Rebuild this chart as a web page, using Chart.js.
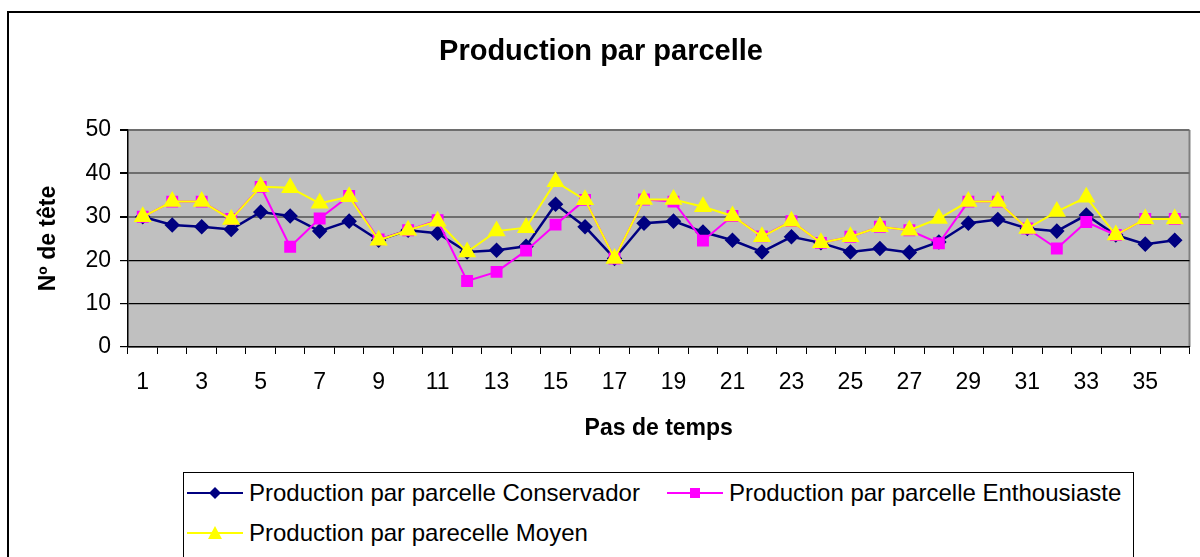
<!DOCTYPE html>
<html>
<head>
<meta charset="utf-8">
<script src="https://cdn.jsdelivr.net/npm/chart.js@4.4.0/dist/chart.umd.min.js"></script>
<style>
    body { margin: 0; background: #fff; font-family: "Liberation Sans", Arial, sans-serif; }
    #wrap { position: relative; width: 1200px; height: 557px; overflow: hidden; }
    #frame { position: absolute; left: 7px; top: 11px; width: 1220px; height: 580px; border: 2px solid #000; box-sizing: border-box; }
    canvas { position: absolute; left: 0; top: 0; }
    #legend { position: absolute; left: 183px; top: 472px; width: 951px; height: 90px; border: 1px solid #000; box-sizing: border-box; background: #fff; }
    .item { position: absolute; display: flex; align-items: center; font-size: 24px; color: #000; white-space: nowrap; }
    .item svg { margin-right: 6px; }
</style>
</head>
<body>
<div id="wrap">
    <div id="frame"></div>
    <canvas id="prodChart" width="1200" height="557"></canvas>
    <div id="legend"></div>
</div>
<script>
var categories = [];
for (var i = 1; i <= 36; i++) categories.push(String(i));

var conservador = [30, 28.1, 27.7, 27.1, 31.1, 30.2, 26.7, 29.0, 24.6, 26.9, 26.2, 21.9, 22.3, 23.2, 32.9, 27.7, 20.4, 28.5,
    29.0, 26.5, 24.6, 21.9, 25.4, 24.0, 21.9, 22.7, 21.8, 24.2, 28.5, 29.4, 27.3, 26.7, 30.4, 25.8, 23.7, 24.6];
var enthousiaste = [30, 33.5, 33.5, 29.5, 36.9, 23.1, 29.6, 34.8, 24.8, 26.9, 29.2, 15.2, 17.3, 22.2, 28.2, 33.9, 20.4, 34.0,
    33.5, 24.5, 30.2, 25.5, 29.0, 24.0, 25.4, 27.7, 26.9, 23.9, 33.5, 33.5, 27.3, 22.7, 28.8, 25.8, 29.5, 29.5];
var moyen = [30, 33.5, 33.5, 29.4, 36.9, 36.7, 33.1, 34.6, 24.6, 26.9, 29.0, 21.9, 26.7, 27.5, 38.1, 33.9, 20.4, 34.0,
    34.0, 32.3, 30.2, 25.4, 29.0, 24.0, 25.4, 27.7, 26.9, 29.6, 33.5, 33.5, 27.3, 31.2, 34.5, 25.8, 29.5, 29.5];

var seriesNames = ['Production par parcelle Conservador', 'Production par parcelle Enthousiaste', 'Production par parecelle Moyen'];
var yTicks = [0, 10, 20, 30, 40, 50];

var fontFamily = '"Liberation Sans", Arial, sans-serif';

// grey plot background
var plotBg = {
    id: 'plotBg',
    beforeDraw: function(chart) {
        var a = chart.chartArea, c = chart.ctx;
        c.save();
        c.fillStyle = '#c0c0c0';
        c.fillRect(a.left, a.top, a.right - a.left, a.bottom - a.top);
        c.strokeStyle = '#808080';
        c.lineWidth = 2;
        c.beginPath();
        c.moveTo(a.right, a.top);
        c.lineTo(a.right, a.bottom);
        c.stroke();
        c.restore();
    }
};

var ctx = document.getElementById('prodChart').getContext('2d');
var prodChart = new Chart(ctx, {
    type: 'line',
    data: {
        labels: categories,
        datasets: [{
            label: seriesNames[0],
            data: conservador,
            borderColor: '#000080',
            backgroundColor: '#000080',
            borderWidth: 2.5,
            pointStyle: 'rectRot',
            pointRadius: 6,
            order: 3
        }, {
            label: seriesNames[1],
            data: enthousiaste,
            borderColor: '#ff00ff',
            backgroundColor: '#ff00ff',
            borderWidth: 2,
            pointStyle: 'rect',
            pointRadius: 7,
            order: 2
        }, {
            label: seriesNames[2],
            data: moyen,
            borderColor: '#ffff00',
            backgroundColor: '#ffff00',
            borderWidth: 2,
            pointStyle: 'triangle',
            pointRadius: 8.5,
            order: 1
        }]
    },
    options: {
        responsive: false,
        animation: false,
        layout: { padding: { left: 12, right: 10, top: 0, bottom: 110 } },
        plugins: {
            legend: { display: false },
            tooltip: { enabled: false },
            title: {
                display: true,
                text: 'Production par parcelle',
                color: '#000',
                font: { family: fontFamily, size: 29, weight: 'bold', lineHeight: 1.2 },
                padding: { top: 35, bottom: 60.2 }
            }
        },
        scales: {
            x: {
                offset: true,
                grid: { offset: true, drawOnChartArea: false, color: '#000', tickLength: 7, tickColor: '#000' },
                border: { color: '#000', width: 1.5 },
                ticks: {
                    autoSkip: false,
                    maxRotation: 0,
                    padding: 15,
                    color: '#000',
                    font: { family: fontFamily, size: 23 },
                    callback: function(val, idx) { return idx % 2 === 0 ? this.getLabelForValue(val) : ''; }
                },
                title: {
                    display: true,
                    text: 'Pas de temps',
                    color: '#000',
                    font: { family: fontFamily, size: 23, weight: 'bold', lineHeight: 1.2 },
                    padding: { top: 0, bottom: 5 }
                },
                afterFit: function(scale) { scale.height = 100; }
            },
            y: {
                min: 0,
                max: 50,
                afterBuildTicks: function(scale) {
                    scale.ticks = yTicks.map(function(v) { return { value: v }; });
                },
                grid: {
                    color: function(c) { return c.tick && c.tick.value >= 30 ? '#6e6e6e' : '#000'; },
                    lineWidth: function(c) { return c.tick && c.tick.value >= 30 ? 2 : 1.2; },
                    tickLength: 8,
                    tickColor: '#000'
                },
                border: { color: '#000', width: 1.5 },
                ticks: {
                    padding: 9,
                    color: '#000',
                    font: { family: fontFamily, size: 23 }
                },
                title: {
                    display: true,
                    text: 'Nº de tête',
                    color: '#000',
                    font: { family: fontFamily, size: 23, weight: 'bold', lineHeight: 1.2 },
                    padding: { top: 23, bottom: 0 }
                },
                afterFit: function(scale) { scale.width = 116; }
            }
        }
    },
    plugins: [plotBg]
});

// legend in a framed box, built from the datasets
var legendPos = [[3, 20], [483, 20], [3, 60]];
var legendBox = document.getElementById('legend');
prodChart.data.datasets.forEach(function(ds, i) {
    var item = document.createElement('div');
    item.className = 'item';
    item.style.left = legendPos[i][0] + 'px';
    item.style.top = (legendPos[i][1] - 14) + 'px';
    var marker;
    if (ds.pointStyle === 'rectRot') marker = '<polygon points="28,5 34,11 28,17 22,11" fill="' + ds.borderColor + '"/>';
    else if (ds.pointStyle === 'rect') marker = '<rect x="23" y="6" width="10" height="10" fill="' + ds.borderColor + '"/>';
    else marker = '<polygon points="28,4 35,17 21,17" fill="' + ds.borderColor + '"/>';
    item.innerHTML = '<svg width="56" height="22"><line x1="0" y1="11" x2="56" y2="11" stroke="' + ds.borderColor +
        '" stroke-width="2"/>' + marker + '</svg><span>' + ds.label + '</span>';
    legendBox.appendChild(item);
});
</script>
</body>
</html>
